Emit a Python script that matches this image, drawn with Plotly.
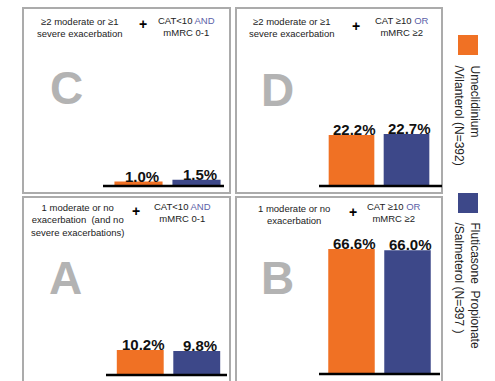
import plotly.graph_objects as go

W, H = 495, 381

# Data: share of patients in each GOLD group, by treatment arm
groups = ["C", "D", "A", "B"]
treatments = ["Umeclidinium\n/Vilanterol (N=392)", "Fluticasone&nbsp; Propionate\n/Salmeterol (N=397 )"]
umec_vil = [1.0, 22.2, 10.2, 66.6]
flut_salm = [1.5, 22.7, 9.8, 66.0]

exac_text = {
    "C": "≥2 moderate or ≥1<br>severe exacerbation",
    "D": "≥2 moderate or ≥1<br>severe exacerbation",
    "A": "1 moderate or no<br>exacerbation  (and no<br>severe exacerbations)",
    "B": "1 moderate or no<br>exacerbation",
}
symptom_text = {
    "C": "CAT<10 <span style='color:#5b5fa8'>AND</span><br>mMRC 0-1",
    "D": "CAT ≥10 <span style='color:#5b5fa8'>OR</span><br>mMRC ≥2",
    "A": "CAT<10 <span style='color:#5b5fa8'>AND</span><br>mMRC 0-1",
    "B": "CAT ≥10 <span style='color:#5b5fa8'>OR</span><br>mMRC ≥2",
}

ORANGE = "#f07124"
BLUE = "#3d4889"
FONT = "Liberation Sans, Arial, sans-serif"

def px(x):
    return x / W

def py(y):
    return 1 - y / H

# Panel layout in pixels
panels = {
    "C": dict(box=(23, 8, 230, 193), base=185, ppp=3.5, xd=(109.5, 225.5), bl=(103, 224),
              letter=(66, 88), exac=(80, 28), plus=(143, 24), sym=(186, 27)),
    "D": dict(box=(236, 8, 442, 193), base=185, ppp=2.25, xd=(324, 434), bl=(319, 442),
              letter=(277, 90), exac=(292, 28), plus=(356, 26), sym=(402, 27)),
    "A": dict(box=(23, 197, 230, 390), base=374, ppp=2.35, xd=(112, 225), bl=(106, 227),
              letter=(65, 278), exac=(77, 220), plus=(136, 211), sym=(182, 212)),
    "B": dict(box=(236, 197, 442, 390), base=373, ppp=1.86, xd=(323.5, 435.5), bl=(319, 440),
              letter=(277, 278), exac=(294, 214), plus=(353, 212), sym=(394, 212)),
}

fig = go.Figure()
shapes = []
annotations = []
layout_axes = {}

for i, g in enumerate(groups):
    p = panels[g]
    n = i + 1
    xa = "x" if n == 1 else f"x{n}"
    ya = "y" if n == 1 else f"y{n}"
    top_px = 45 if p["base"] < 200 else 235
    ymax = (p["base"] - top_px) / p["ppp"]
    layout_axes[f"xaxis{'' if n == 1 else n}"] = dict(
        domain=[px(p["xd"][0]), px(p["xd"][1])], range=[-0.5, 1.5], visible=False, anchor=ya)
    layout_axes[f"yaxis{'' if n == 1 else n}"] = dict(
        domain=[py(p["base"]), py(top_px)], range=[0, ymax], visible=False, anchor=xa)

    vals = [umec_vil[i], flut_salm[i]]
    fig.add_trace(go.Bar(x=[0, 1], y=vals, width=0.83, marker=dict(color=[ORANGE, BLUE], line_width=0),
                         xaxis=xa, yaxis=ya, showlegend=False, hoverinfo="skip"))
    for j, v in enumerate(vals):
        annotations.append(dict(x=j, y=v, xref=xa, yref=ya, text=f"<b>{v:.1f}%</b>", showarrow=False,
                                xanchor="center", yanchor="bottom", xshift=3, yshift=-5,
                                font=dict(size=15, color="#111", family=FONT)))

    # panel frame
    x0, y0, x1, y1 = p["box"]
    shapes.append(dict(type="rect", xref="paper", yref="paper", x0=px(x0), x1=px(x1), y0=py(y0), y1=py(y1),
                       line=dict(color="#ababab", width=2), fillcolor="rgba(0,0,0,0)", layer="below"))
    # baseline under the bars
    shapes.append(dict(type="line", xref="paper", yref="paper", x0=px(p["bl"][0]), x1=px(p["bl"][1]),
                       y0=py(p["base"] + 1), y1=py(p["base"] + 1), line=dict(color="#000", width=2.5)))

    # big group letter
    lx, ly = p["letter"]
    annotations.append(dict(x=px(lx), y=py(ly), xref="paper", yref="paper", text=f"<b>{g}</b>", showarrow=False,
                            xanchor="center", yanchor="middle", font=dict(size=46, color="#b3b3b3", family=FONT)))
    ex, ey = p["exac"]
    annotations.append(dict(x=px(ex), y=py(ey), xref="paper", yref="paper", text=exac_text[g], showarrow=False,
                            xanchor="center", yanchor="middle", align="center",
                            font=dict(size=9.5, color="#222", family=FONT)))
    plx, ply = p["plus"]
    annotations.append(dict(x=px(plx), y=py(ply), xref="paper", yref="paper", text="<b>+</b>", showarrow=False,
                            xanchor="center", yanchor="middle", font=dict(size=14, color="#000", family=FONT)))
    sx, sy = p["sym"]
    annotations.append(dict(x=px(sx), y=py(sy), xref="paper", yref="paper", text=symptom_text[g], showarrow=False,
                            xanchor="center", yanchor="middle", align="center",
                            font=dict(size=9.5, color="#222", family=FONT)))

# legend: coloured squares with rotated labels
legend_items = [(ORANGE, treatments[0], 35, 63), (BLUE, treatments[1], 193, 220)]
for color, label, sq_top, text_top in legend_items:
    shapes.append(dict(type="rect", xref="paper", yref="paper", x0=px(458), x1=px(478),
                       y0=py(sq_top + 20), y1=py(sq_top), fillcolor=color, line_width=0))
    annotations.append(dict(x=px(466.5), y=py(text_top), xref="paper", yref="paper",
                            text=label.replace("\n", "<br>"), showarrow=False, textangle=90,
                            xanchor="center", yanchor="top", align="left",
                            font=dict(size=12, color="#222", family=FONT)))

fig.update_layout(width=W, height=H, margin=dict(l=0, r=0, t=0, b=0),
                  paper_bgcolor="white", plot_bgcolor="rgba(0,0,0,0)",
                  shapes=shapes, annotations=annotations, showlegend=False, **layout_axes)

fig.write_html("out.html")
